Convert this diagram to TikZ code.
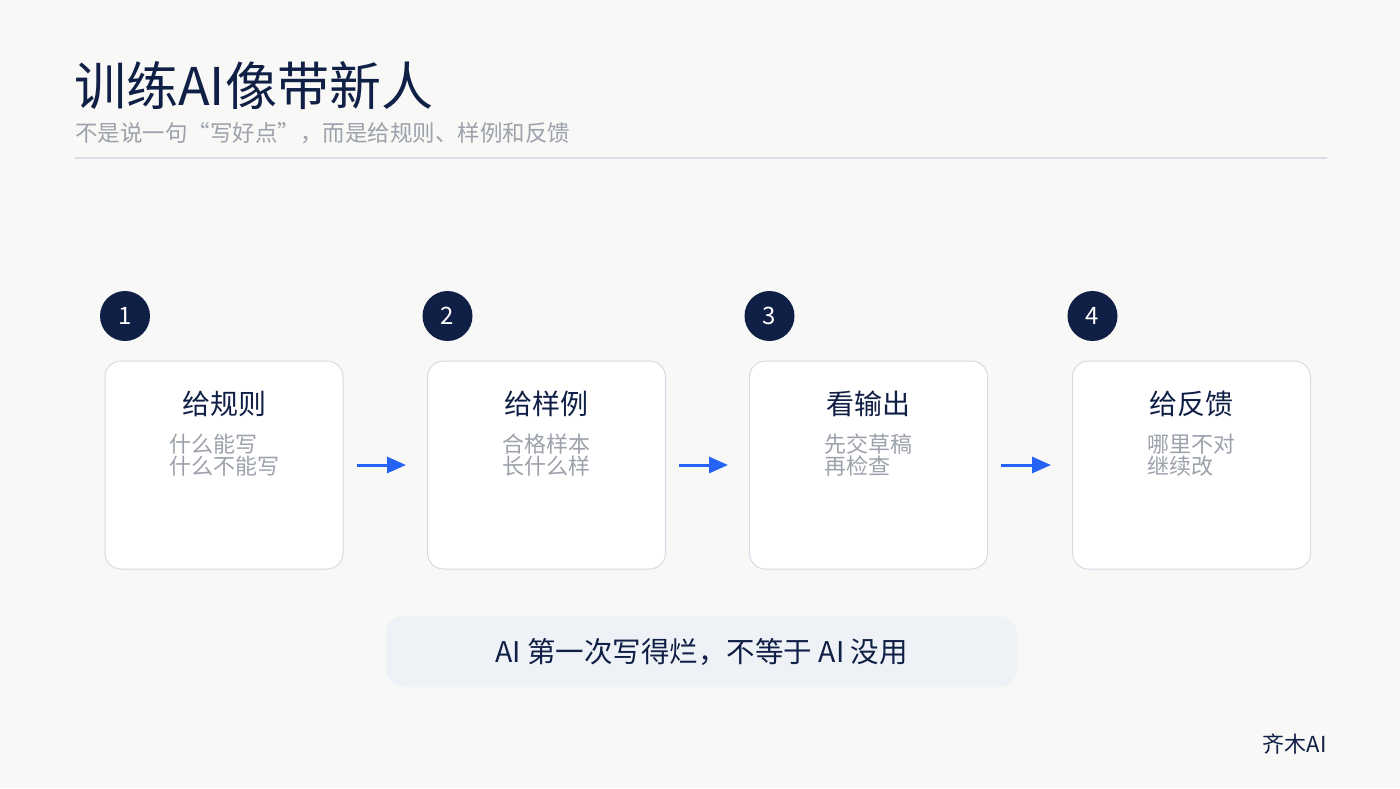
\documentclass[tikz,border=0pt]{standalone}
\usepackage{fontspec}
\setmainfont{Noto Sans CJK SC}
\usetikzlibrary{arrows.meta}
\definecolor{bg}{HTML}{F8F8F6}
\definecolor{navy}{HTML}{0F1F45}
\definecolor{subgray}{HTML}{9CA1AB}
\definecolor{rule}{HTML}{D9DDE6}
\definecolor{boxline}{HTML}{D6DAE3}
\definecolor{arrowblue}{HTML}{2563F5}
\definecolor{pill}{HTML}{EEF1F5}
\tikzset{
  stepbox/.style={draw=boxline, line width=1pt, fill=white, rounded corners=16pt, minimum width=238pt, minimum height=208pt, inner sep=0pt},
  numdot/.style={circle, fill=navy, minimum size=50pt, inner sep=0pt, text=white, font=\fontsize{24}{24}\selectfont},
  boxtitle/.style={text=navy, font=\fontsize{28}{30}\selectfont, inner sep=0pt},
  boxsub/.style={text=subgray, font=\fontsize{22}{22}\selectfont, align=left, inner sep=0pt},
  flow/.style={draw=arrowblue, line width=3pt, -{Triangle[length=19pt,width=16pt]}, shorten <=13pt, shorten >=21pt}
}
\begin{document}
\begin{tikzpicture}[x=1pt,y=-1pt]
\fill[bg] (0,0) rectangle (1400,788);
\useasboundingbox (0,0) rectangle (1400,788);
\node[anchor=base west, inner sep=0pt, text=navy, font=\fontsize{52}{54}\selectfont] (title) at (74,105) {训练AI像带新人};
\node[anchor=base west, inner sep=0pt, text=subgray, font=\fontsize{22.5}{24}\selectfont] (subtitle) at (75,141) {不是说一句“写好点”，而是给规则、样例和反馈};
\coordinate (rl) at (75,158);
\coordinate (rr) at (1327,158);
\draw[rule, line width=1.2pt] (rl) -- (rr);
% steps
\foreach \i/\x/\t/\a/\b in {1/224/给规则/什么能写/什么不能写, 2/546.5/给样例/合格样本/长什么样, 3/868.5/看输出/先交草稿/再检查, 4/1191.5/给反馈/哪里不对/继续改}{
  \node[stepbox] (b\i) at (\x,465) {};
  \node[numdot] (n\i) at (\x-99,316) {\i};
  \node[boxtitle] (t\i) at (\x,404) {\t};
  \node[boxsub] (s\i) at (\x,455) {\a\\\b};
}
\draw[flow] (b1.east) -- (b2.west);
\draw[flow] (b2.east) -- (b3.west);
\draw[flow] (b3.east) -- (b4.west);
\node[fill=pill, rounded corners=18pt, minimum width=631pt, minimum height=71pt, inner sep=0pt, text=navy, font=\fontsize{28.5}{30}\selectfont] (note) at (701.5,651.5) {AI 第一次写得烂，不等于 AI 没用};
\node[anchor=east, inner sep=0pt, text=navy, font=\fontsize{22}{24}\selectfont] (brand) at (1327,744) {齐木AI};
\end{tikzpicture}
\end{document}
